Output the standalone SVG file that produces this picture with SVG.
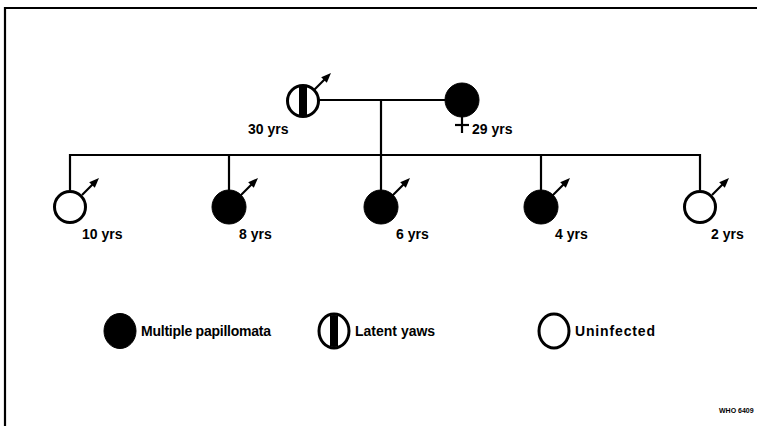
<svg xmlns="http://www.w3.org/2000/svg" xmlns:xlink="http://www.w3.org/1999/xlink" width="757" height="426" viewBox="0 0 757 426">
<style>
.ln{stroke:#000;stroke-width:2.2;fill:none}
.open{fill:#fff;stroke:#000;stroke-width:3}
.fill{fill:#000;stroke:#000;stroke-width:1}
text{font-family:"Liberation Sans",Arial,sans-serif;font-weight:bold;font-size:14px;fill:#000}
.small{font-size:7px}
</style>
<defs>
<g id="male">
<line x1="0" y1="0" x2="11" y2="-11" stroke="#000" stroke-width="2.2"/>
<polygon points="17,-17 12.8,-7.2 7.2,-12.8" fill="#000"/>
</g>
<clipPath id="cf"><circle cx="303" cy="101" r="15"/></clipPath>
<clipPath id="cl"><ellipse cx="334" cy="331" rx="14" ry="16"/></clipPath>
</defs>
<rect width="757" height="426" fill="#fff"/>
<g id="frame"><polyline class="ln" points="5,426 5,8 757,8"/></g>
<g id="connectors">
<line class="ln" x1="319" y1="100" x2="445" y2="100"/>
<line class="ln" x1="381" y1="100" x2="381" y2="155"/>
<polyline class="ln" points="70,190 70,155 700,155 700,190"/>
<line class="ln" x1="229" y1="155" x2="229" y2="190"/>
<line class="ln" x1="381" y1="155" x2="381" y2="190"/>
<line class="ln" x1="541" y1="155" x2="541" y2="190"/>
</g>
<g id="father">
<circle class="open" cx="303" cy="101" r="15.5"/>
<rect x="299" y="84" width="8" height="34" fill="#000" clip-path="url(#cf)"/>
<use xlink:href="#male" x="314" y="90"/>
<text x="248" y="134">30 yrs</text>
</g>
<g id="mother">
<circle class="fill" cx="462" cy="100" r="17"/>
<line class="ln" x1="462" y1="116" x2="462" y2="133"/>
<line class="ln" x1="455" y1="125" x2="469" y2="125"/>
<text x="472" y="134">29 yrs</text>
</g>
<g id="child10">
<circle class="open" cx="70" cy="207" r="15.5"/>
<use xlink:href="#male" x="82" y="195"/>
<text x="82" y="239">10 yrs</text>
</g>
<g id="child8">
<circle class="fill" cx="229" cy="207" r="17"/>
<use xlink:href="#male" x="241" y="195"/>
<text x="239" y="239">8 yrs</text>
</g>
<g id="child6">
<circle class="fill" cx="381" cy="207" r="17"/>
<use xlink:href="#male" x="393" y="195"/>
<text x="396" y="239">6 yrs</text>
</g>
<g id="child4">
<circle class="fill" cx="541" cy="207" r="17"/>
<use xlink:href="#male" x="553" y="195"/>
<text x="555" y="239">4 yrs</text>
</g>
<g id="child2">
<circle class="open" cx="700" cy="207" r="15.5"/>
<use xlink:href="#male" x="712" y="195"/>
<text x="711" y="239">2 yrs</text>
</g>
<g id="legend-papillomata">
<ellipse class="fill" cx="120" cy="331" rx="16" ry="17.5"/>
<text x="141" y="336" textLength="130">Multiple papillomata</text>
</g>
<g id="legend-latent">
<ellipse class="open" cx="334" cy="331" rx="15" ry="17"/>
<rect x="330" y="313" width="8" height="36" fill="#000" clip-path="url(#cl)"/>
<text x="355" y="336">Latent yaws</text>
</g>
<g id="legend-uninfected">
<ellipse class="open" cx="554" cy="331" rx="15" ry="17"/>
<text x="575" y="336" textLength="80">Uninfected</text>
</g>
<text class="small" x="719" y="413">WHO 6409</text>
</svg>
